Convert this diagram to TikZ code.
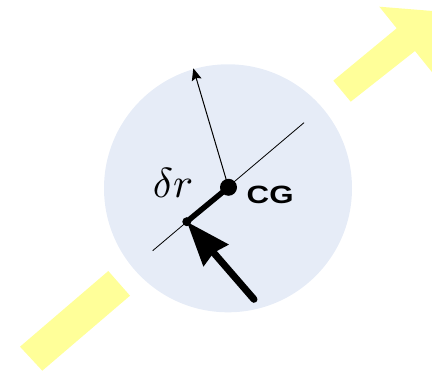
\documentclass[tikz,border=0pt]{standalone}
\usepackage{fontspec}
\newfontfamily\labelsans{Liberation Sans}
\usetikzlibrary{arrows.meta}
\definecolor{bodyfill}{RGB}{230,236,247}
\definecolor{pathyellow}{RGB}{255,255,153}
\begin{document}
\begin{tikzpicture}[x=1pt,y=-1pt,
  dotnode/.style={circle,fill=black,inner sep=0pt},
  thinarrow/.style={line width=1pt,-{Stealth[length=12pt,width=10pt,inset=2pt]}},
  thickarrow/.style={line width=7pt,line cap=round,-{Stealth[length=44pt,width=32pt,inset=3pt]}},
  yellowshape/.style={fill=pathyellow,draw=none}]
\useasboundingbox (0,0) rectangle (432,371);
\clip (0,0) rectangle (432,371);
% yellow path arrow
\fill[yellowshape] (20,346.7) -- (108.3,271) -- (130,295.7) -- (42.3,370.7) -- cycle;
\fill[yellowshape] (333.3,80.7) -- (396.7,28.3) -- (379.3,6.7) -- (438.8,11.5)
  -- (432.4,72.6) -- (415,51) -- (350.7,101.7) -- cycle;
% body
\node[circle,fill=bodyfill,minimum size=248pt,inner sep=0pt] (body) at (228,188.3) {};
% axis
\coordinate (axA) at (152.7,250.7);
\coordinate (axB) at (304,122.7);
\draw[line width=0.8pt] (axA) -- (axB);
% points
\node[dotnode,minimum size=17pt] (cg) at (228.5,187.3) {};
\node[dotnode,minimum size=9pt] (p) at (186.8,221.7) {};
\draw[line width=5.5pt] (cg.center) -- (p.center);
% thin arrow
\coordinate (up) at (193.3,68.3);
\draw[thinarrow] (cg.center) -- (up);
% thick arrow
\coordinate (tail) at (254,299.3);
\draw[thickarrow] (tail) -- (p.center);
% labels
\node[anchor=base,inner sep=0pt] (dr) at (173,197.3) {\scalebox{4.2}{$\delta r$}};
\node[anchor=base west,inner sep=0pt] (cglabel) at (246.5,203.8) {\scalebox{1.25}[1]{\labelsans\bfseries\fontsize{25}{25}\selectfont CG}};
\end{tikzpicture}
\end{document}
